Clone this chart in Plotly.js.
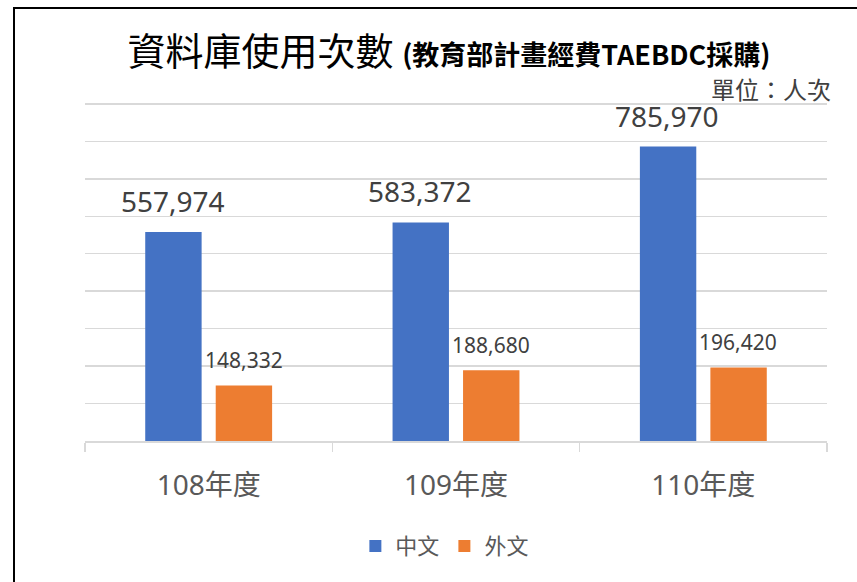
<!DOCTYPE html>
<html>
<head>
<meta charset="utf-8">
<script src="https://cdn.plot.ly/plotly-3.0.1.min.js"></script>
<style>
html,body{margin:0;padding:0;background:#fff;overflow:hidden;}
#chart{position:absolute;left:0;top:0;width:857px;height:582px;}
#frame{position:absolute;left:13px;top:7px;width:900px;height:700px;border-left:2px solid #000;border-top:2px solid #000;pointer-events:none;}
</style>
</head>
<body>
<div id="chart"></div>
<div id="frame"></div>
<script>
const categories = ['108年度', '109年度', '110年度'];
const seriesNames = ['中文', '外文'];
const chineseValues = [557974, 583372, 785970];
const foreignValues = [148332, 188680, 196420];
const yTicks = [0, 100000, 200000, 300000, 400000, 500000, 600000, 700000, 800000, 900000];

const fontFam = '"Noto Sans", "Noto Sans CJK TC", sans-serif';
const colors = ['#4472C4', '#ED7D31'];

const traces = [
  {type: 'bar', name: seriesNames[0], x: categories, y: chineseValues, marker: {color: colors[0]}, hoverinfo: 'none'},
  {type: 'bar', name: seriesNames[1], x: categories, y: foreignValues, marker: {color: colors[1]}, hoverinfo: 'none'}
];

const fmt = v => v.toLocaleString('en-US');
const annotations = [];
chineseValues.forEach((v, i) => annotations.push({
  x: categories[i], y: v, xref: 'x', yref: 'y', text: fmt(v), showarrow: false,
  xshift: -36, yshift: 31, yanchor: 'middle', font: {family: fontFam, size: 28, color: '#404040'}
}));
foreignValues.forEach((v, i) => annotations.push({
  x: categories[i], y: v, xref: 'x', yref: 'y', text: fmt(v), showarrow: false,
  xshift: 35, yshift: 25, yanchor: 'middle', font: {family: fontFam, size: 21, color: '#404040'}
}));
annotations.push({
  xref: 'paper', yref: 'paper', x: 1.008, y: 1.04, xanchor: 'right', yanchor: 'middle',
  text: '單位：人次', showarrow: false, font: {family: '"Noto Sans CJK TC", sans-serif', size: 24, color: '#404040'}
});

const layout = {
  width: 857, height: 582,
  margin: {l: 85, r: 30, t: 102, b: 141},
  paper_bgcolor: '#fff', plot_bgcolor: '#fff',
  title: {
    text: '資料庫使用次數 <span style="font-size:27px;font-weight:bold">(教育部計畫經費TAEBDC採購)</span>',
    font: {family: '"Noto Sans CJK TC", sans-serif', size: 38, color: '#000'},
    x: 0.524, xanchor: 'center', y: 0.912, yanchor: 'middle', xref: 'container', yref: 'container'
  },
  barmode: 'group', bargap: 0.43, bargroupgap: 0.2,
  xaxis: {
    type: 'category', showgrid: false, showline: true, linecolor: '#D9D9D9', linewidth: 1.5,
    ticks: 'outside', tickson: 'boundaries', ticklen: 9, tickcolor: '#D9D9D9', tickwidth: 1.5,
    ticklabelstandoff: 19,
    tickfont: {family: fontFam, size: 28, color: '#595959'}, zeroline: false
  },
  yaxis: {
    range: [0, 905000], tickvals: yTicks, showticklabels: false, showgrid: true,
    gridcolor: '#D9D9D9', gridwidth: 1.5, zeroline: false, showline: false, ticks: ''
  },
  showlegend: true,
  legend: {
    orientation: 'h', x: 0.485, xanchor: 'center', y: -0.31, yanchor: 'middle',
    font: {family: '"Noto Sans CJK TC", sans-serif', size: 22, color: '#595959'}
  },
  annotations: annotations
};

Plotly.newPlot('chart', traces, layout, {displayModeBar: false, staticPlot: true});
</script>
</body>
</html>
